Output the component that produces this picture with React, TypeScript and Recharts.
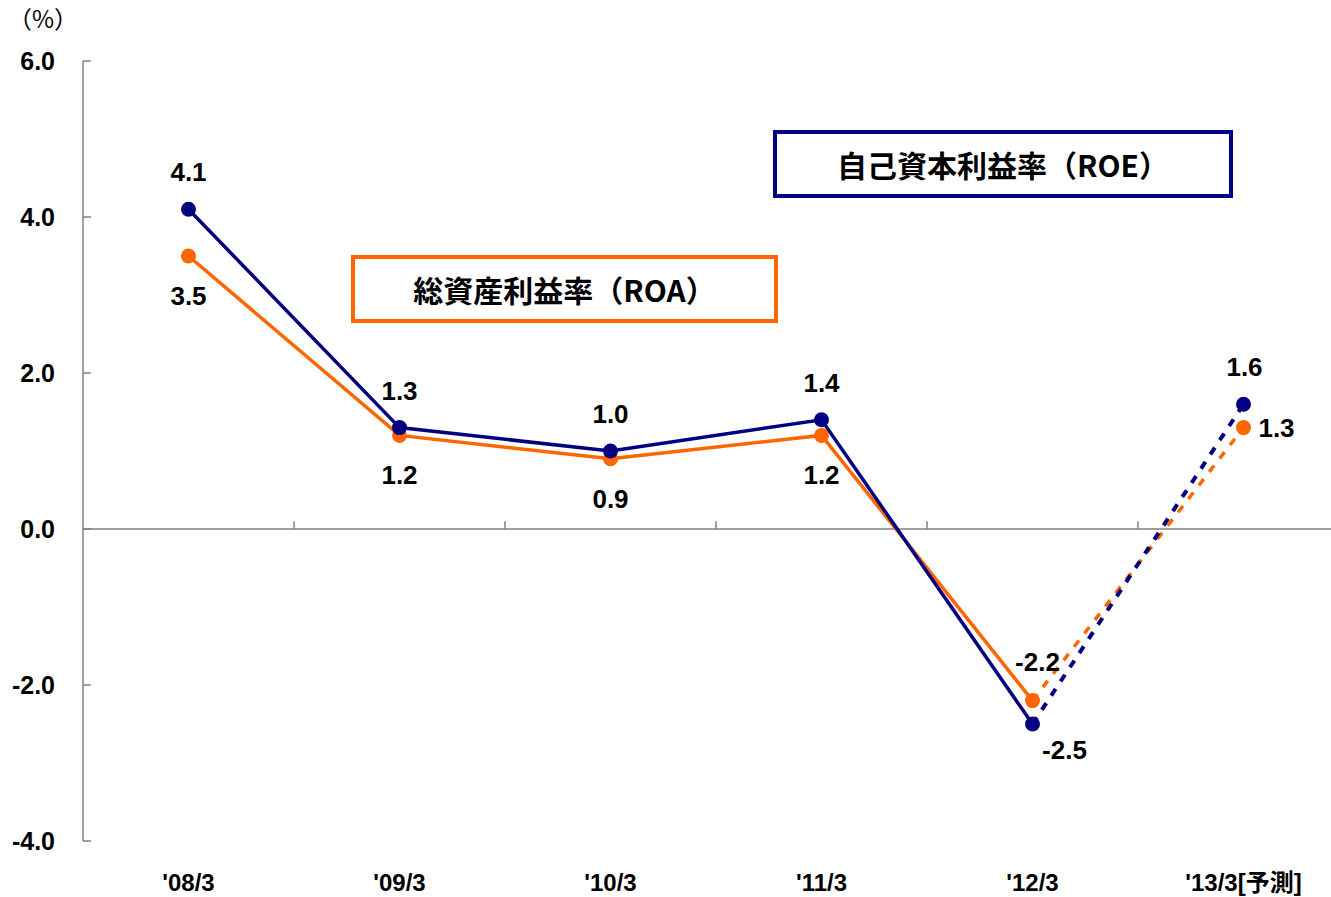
import React from 'react';
import { LineChart, Line, XAxis, YAxis, ReferenceLine, LabelList } from 'recharts';

const categories = ["'08/3", "'09/3", "'10/3", "'11/3", "'12/3", "'13/3[予測]"];
const roe = [4.1, 1.3, 1.0, 1.4, -2.5, 1.6];
const roa = [3.5, 1.2, 0.9, 1.2, -2.2, 1.3];
const yTicks = [-4, -2, 0, 2, 4, 6];
// the last year is a forecast, drawn dashed
const forecastFrom = 4;

const NAVY = '#000080';
const ORANGE = '#FF6600';
const AXIS = '#808080';
const FONT = '"Liberation Sans", Arial, "Noto Sans CJK JP", sans-serif';
const JP_FONT = '"Noto Sans CJK JP", "Liberation Sans", sans-serif';

const data = categories.map((c, i) => ({
  x: i + 0.5,
  name: c,
  roe: roe[i],
  roa: roa[i],
  roeSolid: i <= forecastFrom ? roe[i] : null,
  roaSolid: i <= forecastFrom ? roa[i] : null,
  roeFcst: i >= forecastFrom ? roe[i] : null,
  roaFcst: i >= forecastFrom ? roa[i] : null,
}));

// label offsets from each point (dx, dy)
const roeOffsets = [[0, -37], [0, -37], [0, -37], [0, -37], [32, 26], [1, -37]];
const roaOffsets = [[0, 40], [0, 40], [0, 40], [0, 40], [5, -39], [33, 0]];

const makeLabel = (offsets: number[][]) => (props: any) => {
  const { x, y, value, index } = props;
  const [dx, dy] = offsets[index];
  return (
    <text
      x={x + dx}
      y={y + dy}
      textAnchor="middle"
      dominantBaseline="central"
      fontFamily={FONT}
      fontWeight="bold"
      fontSize={26}
      fill="#000"
    >
      {Number(value).toFixed(1)}
    </text>
  );
};

const boxStyle = (color: string, left: number, top: number, w: number, h: number): React.CSSProperties => ({
  position: 'absolute',
  left,
  top,
  width: w,
  height: h,
  boxSizing: 'border-box',
  border: `4px solid ${color}`,
  background: '#fff',
  display: 'flex',
  alignItems: 'center',
  justifyContent: 'center',
  fontFamily: JP_FONT,
  fontWeight: 'bold',
  fontSize: 30,
  color: '#000',
});

export default function App() {
  return (
    <div style={{ position: 'absolute', left: 0, top: 0, width: 1331, height: 897, overflow: 'hidden', background: '#fff' }}>
      <div style={{ position: 'absolute', left: 8, top: 0, fontFamily: JP_FONT, fontSize: 24, color: '#000' }}>（%）</div>
      <LineChart width={1360} height={897} data={data} margin={{ top: 61, right: 11, bottom: 0, left: 0 }}>
        <XAxis
          dataKey="x"
          type="number"
          domain={[0, 6]}
          ticks={data.map((d) => d.x)}
          tickFormatter={(v: number) => categories[Math.floor(v)]}
          height={56}
          axisLine={false}
          tickLine={false}
          tickSize={0}
          tickMargin={33}
          tick={{ fontFamily: FONT, fontWeight: 'bold', fontSize: 24, fill: '#000' }}
        />
        <YAxis
          domain={[-4, 6]}
          ticks={yTicks}
          width={83}
          axisLine={{ stroke: AXIS, strokeWidth: 1.5 }}
          tickLine={false}
          tickSize={0}
          tickMargin={28}
          tickFormatter={(v: number) => v.toFixed(1)}
          tick={{ fontFamily: FONT, fontWeight: 'bold', fontSize: 25, fill: '#000' }}
        />
        <ReferenceLine y={0} stroke={AXIS} strokeWidth={1.5} />
        {yTicks.map((t) => (
          <ReferenceLine key={'yt' + t} segment={[{ x: 0, y: t }, { x: 0.038, y: t }]} stroke={AXIS} strokeWidth={1.5} />
        ))}
        {[1, 2, 3, 4, 5].map((b) => (
          <ReferenceLine key={'xt' + b} segment={[{ x: b, y: 0 }, { x: b, y: 0.1 }]} stroke={AXIS} strokeWidth={1.5} />
        ))}

        <Line type="linear" dataKey="roaSolid" stroke={ORANGE} strokeWidth={3.5} dot={false} isAnimationActive={false} />
        <Line type="linear" dataKey="roaFcst" stroke={ORANGE} strokeWidth={3.5} strokeDasharray="8 9" dot={false} isAnimationActive={false} />
        <Line type="linear" dataKey="roeSolid" stroke={NAVY} strokeWidth={3.5} dot={false} isAnimationActive={false} />
        <Line type="linear" dataKey="roeFcst" stroke={NAVY} strokeWidth={4} strokeDasharray="8 9" dot={false} isAnimationActive={false} />

        <Line
          type="linear"
          dataKey="roa"
          stroke="none"
          dot={{ r: 7.5, fill: ORANGE, stroke: ORANGE, strokeWidth: 0 }}
          isAnimationActive={false}
        >
          <LabelList dataKey="roa" content={makeLabel(roaOffsets)} />
        </Line>
        <Line
          type="linear"
          dataKey="roe"
          stroke="none"
          dot={{ r: 7.5, fill: NAVY, stroke: NAVY, strokeWidth: 0 }}
          isAnimationActive={false}
        >
          <LabelList dataKey="roe" content={makeLabel(roeOffsets)} />
        </Line>
      </LineChart>
      <div style={boxStyle(NAVY, 773, 130, 460, 68)}>自己資本利益率（ROE）</div>
      <div style={boxStyle(ORANGE, 351, 255, 427, 68)}>総資産利益率（ROA）</div>
    </div>
  );
}
